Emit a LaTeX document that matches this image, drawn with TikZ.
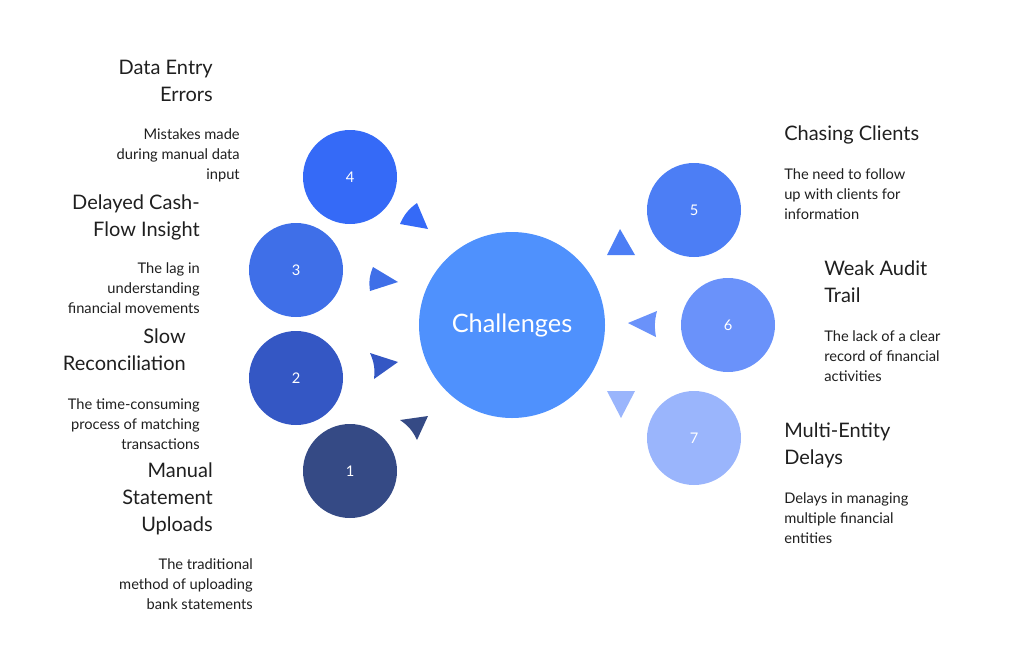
\documentclass[tikz,border=0pt]{standalone}
\usepackage{fontspec}
\setmainfont{Lato}
\begin{document}
\begin{tikzpicture}[x=0.75pt,y=-0.75pt,
  circ/.style={circle,inner sep=0pt,minimum size=70.5pt,text=white,font=\fontsize{11}{13}\selectfont},
  ttl/.style={inner sep=0pt,font=\fontsize{15}{20.25}\selectfont,text=black!88},
  bod/.style={inner sep=0pt,font=\fontsize{11}{15.2}\selectfont,text=black!88}]
\useasboundingbox (0,0) rectangle (1024,647);
\definecolor{c0}{HTML}{4F91FD}
\definecolor{c1}{HTML}{354A85}
\definecolor{c2}{HTML}{3457C4}
\definecolor{c3}{HTML}{3F6FE8}
\definecolor{c4}{HTML}{356AF7}
\definecolor{c5}{HTML}{4C7EF5}
\definecolor{c6}{HTML}{6A92FA}
\definecolor{c7}{HTML}{9AB5FC}
\node[circ,fill=c0,minimum size=139.5pt,font=\fontsize{19}{22}\selectfont] (ch) at (512,325) {Challenges};
\node[circ,fill=c4] (n4) at (350,177) {4};
\node[circ,fill=c3] (n3) at (296,270) {3};
\node[circ,fill=c2] (n2) at (296,378) {2};
\node[circ,fill=c1] (n1) at (350,471) {1};
\node[circ,fill=c5] (n5) at (694,210) {5};
\node[circ,fill=c6] (n6) at (728,325) {6};
\node[circ,fill=c7] (n7) at (694,438) {7};
% arrowheads
\fill[c4] (417,203) -- (428,229) -- (400,224) to[bend left=15] cycle;
\fill[c3] (373,267) -- (398,282) -- (370,291) to[bend left=15] cycle;
\fill[c2] (370,353) -- (398,362) -- (374,379) to[bend right=15] cycle;
\fill[c1] (400,420) -- (428,416) -- (417,440) to[bend right=15] cycle;
\fill[c5] (620,229) -- (635,255) -- (607,255) -- cycle;
\fill[c6] (657,311) -- (628,323) -- (656,337) to[bend left=12] cycle;
\fill[c7] (607,391) -- (635,391) -- (621,418) -- cycle;
% texts
\node[ttl,anchor=north east,align=right] (t4) at (213,60) {Data Entry\\Errors};
\node[bod,anchor=north east,align=right] (b4) at (240,128) {Mistakes made\\during manual data\\input};
\node[ttl,anchor=north east,align=right] (t3) at (200,194) {Delayed Cash-\\Flow Insight};
\node[bod,anchor=north east,align=right] (b3) at (200,262) {The lag in\\understanding\\financial movements};
\node[ttl,anchor=north east,align=right] (t2) at (186,328) {Slow\\Reconciliation};
\node[bod,anchor=north east,align=right] (b2) at (200,398) {The time-consuming\\process of matching\\transactions};
\node[ttl,anchor=north east,align=right] (t1) at (213,462) {Manual\\Statement\\Uploads};
\node[bod,anchor=north east,align=right] (b1) at (253,558) {The traditional\\method of uploading\\bank statements};
\node[ttl,anchor=north west,align=left] (t5) at (784,125) {Chasing Clients};
\node[bod,anchor=north west,align=left] (b5) at (784,168) {The need to follow\\up with clients for\\information};
\node[ttl,anchor=north west,align=left] (t6) at (824,260) {Weak Audit\\Trail};
\node[bod,anchor=north west,align=left] (b6) at (824,330) {The lack of a clear\\record of financial\\activities};
\node[ttl,anchor=north west,align=left] (t7) at (784,422) {Multi-Entity\\Delays};
\node[bod,anchor=north west,align=left] (b7) at (784,492) {Delays in managing\\multiple financial\\entities};
\end{tikzpicture}
\end{document}
